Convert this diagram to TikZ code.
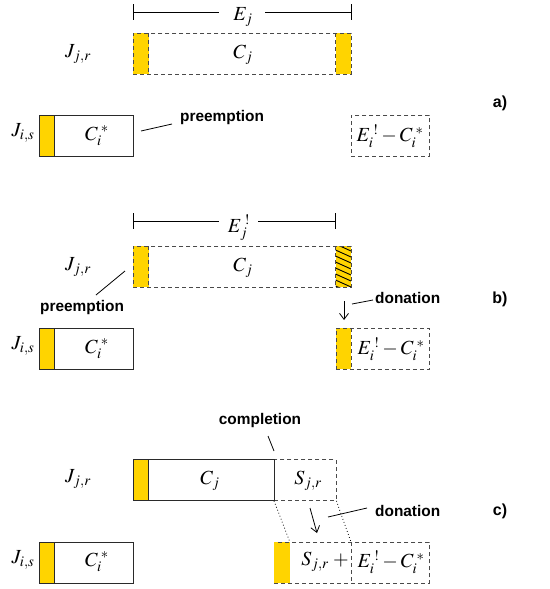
\documentclass[tikz,border=0pt]{standalone}
\usepackage[no-math]{fontspec}
\usepackage{mathptmx}
\newfontfamily\labfont{Liberation Sans}
\usetikzlibrary{arrows.meta}
\definecolor{bargold}{HTML}{FFD400}
\definecolor{edge}{HTML}{2A2A2A}
\newcommand{\excl}{{\hspace{3pt}!}}
\newcommand{\starx}{{\hspace{3pt}*}}
\tikzset{
  box/.style={anchor=north west, inner sep=0pt, minimum height=41pt},
  solidbox/.style={box, draw=edge, line width=0.9pt},
  dashbox/.style={box, draw=edge!85, line width=0.9pt, dash pattern=on 4pt off 3pt},
  dashline/.style={draw=edge!85, line width=0.9pt, dash pattern=on 4pt off 3pt},
  bar/.style={box, fill=bargold, minimum width=15.5pt},
  mathlbl/.style={font=\fontsize{20}{24}\selectfont, inner sep=0pt},
  word/.style={font=\labfont\bfseries\fontsize{15.4}{18}\selectfont, inner sep=0pt},
  tag/.style={font=\labfont\bfseries\fontsize{16}{18}\selectfont, inner sep=0pt},
  leader/.style={draw=black, line width=0.8pt},
  dim/.style={draw=black, line width=0.9pt},
  dots/.style={draw=black, line width=0.8pt, dash pattern=on 0.8pt off 2.4pt},
  push/.style={draw=black, line width=0.8pt, -{Straight Barb[length=6pt,width=9pt]}},
}
\begin{document}
\begin{tikzpicture}[x=1pt,y=-1pt]
\useasboundingbox (0,0) rectangle (549,589);

% ---------------- a) ----------------
\coordinate (aDl) at (133,12); \coordinate (aDr) at (351,12);
\node[mathlbl] (aE) at (243,17) {$E_j$};
\draw[dim] (133,4) -- (133,20) (351,4) -- (351,20);
\draw[dim] (aDl) -- (219,12) (265,12) -- (aDr);

\node[bar] (aJb1) at (133,33) {};
\node[bar] (aJb2) at (335.5,33) {};
\node[dashbox, minimum width=218pt] (aJ) at (133,33) {};
\draw[dashline] (aJb1.north east) -- (aJb1.south east) (aJb2.north west) -- (aJb2.south west);
\node[mathlbl] (aCj) at (243,55) {$C_j$};
\node[mathlbl] (aJjr) at (78,54) {$J_{j,r}$};

\node[bar] (aIb) at (39,115) {};
\node[solidbox, minimum width=94pt] (aI) at (39,115) {};
\draw[draw=edge, line width=0.9pt] (aIb.north east) -- (aIb.south east);
\node[mathlbl] (aCi) at (97,136) {$C_i^\starx$};
\node[mathlbl] (aJis) at (23,133) {$J_{i,s}$};

\node[dashbox, minimum width=78pt] (aR) at (351,115) {};
\node[mathlbl] (aRl) at (390,136) {$E_i^\excl-C_i^\starx$};

\node[word, anchor=west] (aPre) at (180,118) {preemption};
\coordinate (aPa) at (141,131); \coordinate (aPb) at (172,124);
\draw[leader] (aPa) -- (aPb);
\node[tag] (aTag) at (500,103) {a)};

% ---------------- b) ----------------
\coordinate (bDl) at (133,221); \coordinate (bDr) at (335.5,221);
\node[mathlbl] (bE) at (239,228) {$E_j^\excl$};
\draw[dim] (133,213) -- (133,229) (335.5,213) -- (335.5,229);
\draw[dim] (bDl) -- (219,221) (258,221) -- (bDr);

\node[bar] (bJb1) at (133,246) {};
\node[bar] (bJb2) at (335.5,246) {};
\begin{scope}
  \clip (335.5,246) rectangle (351,287);
  \foreach \k in {-14,-8,...,46}
    \draw[line width=0.9pt] (335.5,246+\k) -- (351,253+\k);
\end{scope}
\node[dashbox, minimum width=218pt] (bJ) at (133,246) {};
\draw[dashline] (bJb1.north east) -- (bJb1.south east) (bJb2.north west) -- (bJb2.south west);
\node[mathlbl] (bCj) at (243,268) {$C_j$};
\node[mathlbl] (bJjr) at (78,267) {$J_{j,r}$};

\node[word, anchor=west] (bPre) at (40,308) {preemption};
\coordinate (bPa) at (125,271); \coordinate (bPb) at (96,295);
\draw[leader] (bPa) -- (bPb);

\coordinate (bAa) at (344,301); \coordinate (bAb) at (344,320);
\draw[push] (bAa) -- (bAb);
\node[word, anchor=west] (bDon) at (375,298) {donation};
\coordinate (bDa) at (352,304); \coordinate (bDb) at (373,300);
\draw[leader] (bDa) -- (bDb);

\node[bar] (bIb) at (39,328) {};
\node[solidbox, minimum width=94pt] (bI) at (39,328) {};
\draw[draw=edge, line width=0.9pt] (bIb.north east) -- (bIb.south east);
\node[mathlbl] (bCi) at (97,349) {$C_i^\starx$};
\node[mathlbl] (bJis) at (23,346) {$J_{i,s}$};

\node[bar] (bRb) at (335.5,328) {};
\node[dashbox, minimum width=93.5pt] (bR) at (335.5,328) {};
\draw[dashline] (bRb.north east) -- (bRb.south east);
\node[mathlbl] (bRl) at (391,349) {$E_i^\excl-C_i^\starx$};
\node[tag] (bTag) at (500,299) {b)};

% ---------------- c) ----------------
\node[word] (cComp) at (260,421) {completion};
\coordinate (cCa) at (268,436); \coordinate (cCb) at (274,451);
\draw[leader] (cCa) -- (cCb);

\node[bar] (cJb) at (133,459) {};
\node[solidbox, minimum width=141pt] (cJ) at (133,459) {};
\draw[draw=edge, line width=0.9pt] (cJb.north east) -- (cJb.south east);
\node[dashbox, minimum width=61.5pt] (cS) at (274,459) {};
\draw[draw=edge, line width=0.9pt] (cJ.north east) -- (cJ.south east);
\node[mathlbl] (cCj) at (210,481) {$C_j$};
\node[mathlbl] (cSl) at (308,481) {$S_{j,r}$};
\node[mathlbl] (cJjr) at (78,479) {$J_{j,r}$};

\node[bar] (cIb) at (39,542) {};
\node[solidbox, minimum width=94pt] (cI) at (39,542) {};
\draw[draw=edge, line width=0.9pt] (cIb.north east) -- (cIb.south east);
\node[mathlbl] (cCi) at (97,562) {$C_i^\starx$};
\node[mathlbl] (cJis) at (23,560) {$J_{i,s}$};

\node[bar] (cRb) at (274,542) {};
\node[dashbox, minimum width=155pt] (cR) at (274,542) {};
\draw[draw=bargold, line width=1pt] (cRb.north west) -- (cRb.south west);
\coordinate (cMid) at (351,542); \coordinate (cMidb) at (351,583);
\draw[dashline] (cMid) -- (cMidb);
\node[mathlbl] (cRl1) at (325,562) {$S_{j,r}\;+$};
\node[mathlbl] (cRl2) at (391,562) {$E_i^\excl-C_i^\starx$};

\draw[dots] (cS.south west) -- (cRb.north east);
\draw[dots] (cS.south east) -- (cMid);

\coordinate (cAa) at (310,508); \coordinate (cAb) at (317,533);
\draw[push] (cAa) -- (cAb);
\node[word, anchor=west] (cDon) at (375,511) {donation};
\coordinate (cDa) at (328,517); \coordinate (cDb) at (367,508);
\draw[leader] (cDa) -- (cDb);
\node[tag] (cTag) at (500,511) {c)};
\end{tikzpicture}
\end{document}
